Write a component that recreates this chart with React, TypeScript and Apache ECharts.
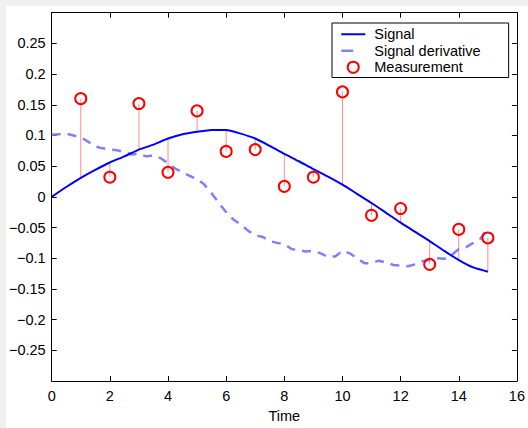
import React, { useEffect, useRef } from "react";
import * as echarts from "echarts";

// ---- data ----
const signalTimes = [0, 0.5, 1, 1.5, 2, 2.5, 3, 3.5, 4, 4.5, 5, 5.5, 6, 6.5, 7, 7.5, 8, 8.5, 9, 9.5, 10, 10.5, 11, 11.5, 12, 12.5, 13, 13.5, 14, 14.5, 15];
const signalValues = [0, 0.016, 0.031, 0.044, 0.056, 0.066, 0.077, 0.085, 0.095, 0.102, 0.106, 0.109, 0.109, 0.103, 0.095, 0.083, 0.07, 0.058, 0.045, 0.033, 0.02, 0.005, -0.01, -0.026, -0.042, -0.057, -0.072, -0.088, -0.103, -0.115, -0.122];

const derivTimes = [0, 0.25, 0.5, 0.75, 1, 1.25, 1.5, 1.75, 2, 2.25, 2.5, 2.75, 3, 3.25, 3.5, 3.75, 4, 4.25, 4.5, 4.75, 5, 5.25, 5.5, 5.75, 6, 6.25, 6.5, 6.75, 7, 7.25, 7.5, 7.75, 8, 8.25, 8.5, 8.75, 9, 9.25, 9.5, 9.75, 10, 10.25, 10.5, 10.75, 11, 11.25, 11.5, 11.75, 12, 12.25, 12.5, 12.75, 13, 13.25, 13.5, 13.75, 14, 14.25, 14.5, 14.75, 15];
const derivValues = [0.101, 0.102, 0.103, 0.1, 0.097, 0.09, 0.082, 0.079, 0.077, 0.076, 0.073, 0.069, 0.07, 0.066, 0.067, 0.063, 0.055, 0.046, 0.04, 0.034, 0.029, 0.02, 0.006, -0.01, -0.025, -0.037, -0.045, -0.055, -0.063, -0.065, -0.072, -0.075, -0.077, -0.085, -0.087, -0.089, -0.088, -0.092, -0.098, -0.097, -0.088, -0.092, -0.1, -0.108, -0.108, -0.104, -0.107, -0.111, -0.112, -0.113, -0.11, -0.105, -0.103, -0.1, -0.101, -0.095, -0.085, -0.082, -0.075, -0.068, -0.05];

const measTimes = [1, 2, 3, 4, 5, 6, 7, 8, 9, 10, 11, 12, 13, 14, 15];
const measValues = [0.16, 0.032, 0.152, 0.04, 0.14, 0.074, 0.077, 0.017, 0.032, 0.171, -0.03, -0.019, -0.11, -0.053, -0.067];

const xTicks = { min: 0, max: 16, interval: 2 };
const yTicks = { min: -0.3, max: 0.3, interval: 0.05 };

const FONT = '"Liberation Sans", Arial, Helvetica, sans-serif';

export default function App() {
  const ref = useRef<HTMLDivElement>(null);

  useEffect(() => {
    if (!ref.current) return;
    const chart = echarts.init(ref.current, undefined, { renderer: "svg" });

    const signalData = signalTimes.map((t, i) => [t, signalValues[i]]);
    const derivData = derivTimes.map((t, i) => [t, derivValues[i]]);
    const measData = measTimes.map((t, i) => [t, measValues[i]]);
    const stemData = measTimes.map((t, i) => {
      const idx = signalTimes.indexOf(t);
      return [t, signalValues[idx], measValues[i]];
    });

    const yFmt = (v: number) => String(parseFloat(v.toFixed(2))).replace("-", "\u2212");

    const axisLine = { show: true, onZero: false, lineStyle: { color: "#000", width: 1 } };
    const axisTick = { show: true, inside: true, length: 5, lineStyle: { color: "#000", width: 1 } };
    const hiddenSymbol = { color: "rgba(0,0,0,0)", borderWidth: 0, opacity: 0 };

    chart.setOption({
      animation: false,
      backgroundColor: "#ffffff",
      textStyle: { fontFamily: FONT },
      grid: { left: 43.5, top: 6.7, right: 9, bottom: 45.7, containLabel: false },
      legend: {
        orient: "vertical",
        left: 326,
        top: 17,
        backgroundColor: "#fff",
        borderColor: "#000",
        borderWidth: 1,
        borderRadius: 0,
        padding: [3, 28, 2, 8],
        itemWidth: 24,
        itemHeight: 11,
        itemGap: 0,
        textStyle: {
          fontSize: 14.5,
          lineHeight: 16.5,
          color: "#000",
          fontFamily: FONT,
          padding: [0, 0, 0, 4],
        },
        data: [
          { name: "Signal", itemStyle: hiddenSymbol, lineStyle: { width: 2, color: "#0000ff" } },
          {
            name: "Signal derivative",
            itemStyle: hiddenSymbol,
            lineStyle: { type: [12, 14], width: 2.5, color: "#8080ff" },
          },
          { name: "Measurement" },
        ],
      },
      xAxis: [
        {
          type: "value",
          position: "bottom",
          min: xTicks.min,
          max: xTicks.max,
          interval: xTicks.interval,
          axisLine,
          axisTick,
          splitLine: { show: false },
          axisLabel: { fontSize: 14.5, color: "#000", margin: 7, fontFamily: FONT },
          name: "Time",
          nameLocation: "middle",
          nameGap: 27,
          nameTextStyle: { fontSize: 14.5, color: "#000", fontFamily: FONT },
        },
        {
          type: "value",
          position: "top",
          min: xTicks.min,
          max: xTicks.max,
          interval: xTicks.interval,
          axisLine,
          axisTick,
          splitLine: { show: false },
          axisLabel: { show: false },
        },
      ],
      yAxis: [
        {
          type: "value",
          position: "left",
          min: yTicks.min,
          max: yTicks.max,
          interval: yTicks.interval,
          axisLine,
          axisTick,
          splitLine: { show: false },
          axisLabel: {
            fontSize: 14.5,
            color: "#000",
            margin: 6,
            fontFamily: FONT,
            showMinLabel: false,
            showMaxLabel: false,
            formatter: yFmt,
          },
        },
        {
          type: "value",
          position: "right",
          min: yTicks.min,
          max: yTicks.max,
          interval: yTicks.interval,
          axisLine,
          axisTick,
          splitLine: { show: false },
          axisLabel: { show: false },
        },
      ],
      series: [
        {
          name: "stems",
          type: "custom",
          xAxisIndex: 0,
          yAxisIndex: 0,
          z: 1,
          data: stemData,
          renderItem: (params: any, api: any) => {
            const p1 = api.coord([api.value(0), api.value(1)]);
            const p2 = api.coord([api.value(0), api.value(2)]);
            return {
              type: "line",
              shape: { x1: p1[0], y1: p1[1], x2: p2[0], y2: p2[1] },
              style: { stroke: "#ff8c8c", lineWidth: 1 },
            };
          },
        },
        {
          name: "Signal derivative",
          type: "line",
          data: derivData,
          symbol: "none",
          z: 2,
          lineStyle: { color: "#8080ff", width: 2.5, type: [9, 7] },
          itemStyle: { color: "#8080ff" },
        },
        {
          name: "Signal",
          type: "line",
          data: signalData,
          symbol: "none",
          smooth: 0.2,
          z: 3,
          lineStyle: { color: "#0000ff", width: 2 },
          itemStyle: { color: "#0000ff" },
        },
        {
          name: "Measurement",
          type: "scatter",
          data: measData,
          symbol: "circle",
          symbolSize: 11,
          z: 4,
          itemStyle: { color: "rgba(255,255,255,0)", borderColor: "#ff0000", borderWidth: 2, opacity: 1 },
        },
      ],
    });

    return () => chart.dispose();
  }, []);

  return (
    <div style={{ position: "fixed", left: 0, top: 0, width: 528, height: 428, background: "#f0f0f0" }}>
      <div ref={ref} style={{ position: "absolute", left: 6, top: 6, width: 522, height: 422 }} />
    </div>
  );
}
